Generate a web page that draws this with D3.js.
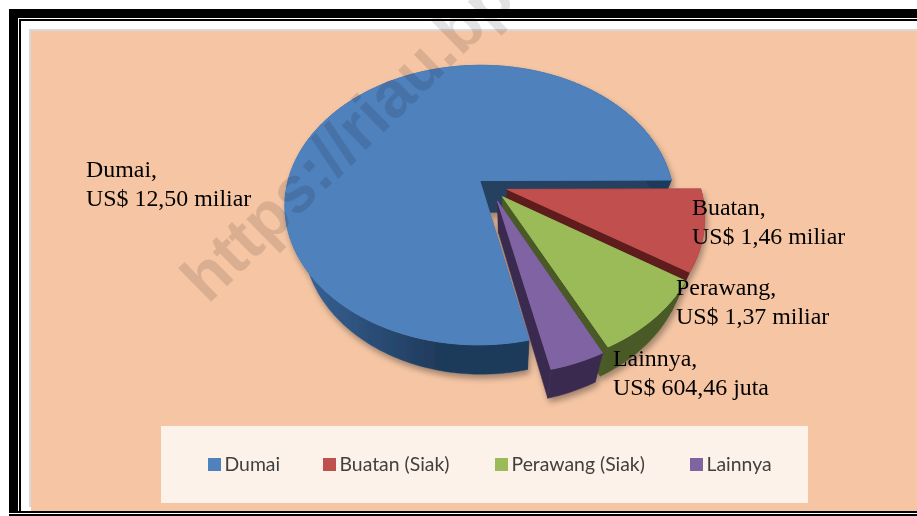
<!DOCTYPE html>
<html><head><meta charset="utf-8">
<script src="https://cdn.jsdelivr.net/npm/d3@7"></script>
<style>html,body{margin:0;padding:0;background:#fff;overflow:hidden}svg{display:block}</style>
</head><body>
<script>
const categories = ["Dumai","Buatan (Siak)","Perawang (Siak)","Lainnya"];
const values = [12.50,1.46,1.37,0.60446];
const labelTitles = ["Dumai,","Buatan,","Perawang,","Lainnya,"];
const labelValues = ["US$ 12,50 miliar","US$ 1,46 miliar","US$ 1,37 miliar","US$ 604,46 juta"];
const topColors = ["#4F81BD","#C0504D","#9BBB59","#8064A2"];
const wallColors = ["#254061","#5E1F1D","#4A5A26","#3A2C4F"];
const legendColors = ["#4F81BD","#C0504D","#9BBB59","#8064A2"];
const watermark = "https://riau.bps.go.id";

const W=917,H=516;
const explode = [8,22,20,22];
const nudge = [[0,0],[0,1],[3,2],[4,2]];
const legendSwatchX = [208,323,495,690];
const labelPos = [[86,177],[692,215],[676,295],[613,366]];
const svg=d3.select("body").append("svg").attr("width",W).attr("height",H);
const defs=svg.append("defs");
const sh=defs.append("filter").attr("id","sh").attr("x","-10%").attr("y","-10%").attr("width","120%").attr("height","125%");
sh.append("feDropShadow").attr("dx",2).attr("dy",4).attr("stdDeviation",3).attr("flood-color","#000").attr("flood-opacity",.35);
const grad=defs.append("linearGradient").attr("id","blueWall").attr("gradientUnits","userSpaceOnUse")
 .attr("x1",290).attr("x2",440).attr("y1",0).attr("y2",0);
grad.append("stop").attr("offset",0).attr("stop-color","#3A659A");
grad.append("stop").attr("offset",1).attr("stop-color","#1F3A5A");

// frame
const rect=(x,y,w,h,f)=>svg.append("rect").attr("x",x).attr("y",y).attr("width",w).attr("height",h).attr("fill",f);
rect(9,9,W-9,H-9,"#000");
rect(18,18,W-18,H-20,"#fff");
rect(19,19,W-19,H-22,"#000");
rect(21,21,W-21,H-26,"#fff");
rect(29,29,W-29,H-38,"#D9D9D9");
rect(31,31,W-31,480,"#F6C6A4");
rect(0,513,W,1,"#fff");
rect(9,511,W-9,2,"#000");
rect(9,514,W-9,2,"#000");

// pie geometry
const R=192.5,cx=486,cy=184,k=0.177,s=0.71;
const start=167.4*Math.PI/180;
const pie=d3.pie().sort(null).startAngle(start).endAngle(start+2*Math.PI);
const arcs=pie(values);
const project=(u,v)=>{const w=1-k*v/R;return [cx+u/w,cy+s*v/w];};
const drop=([x,y])=>[510+.92*(x-510), y+32-.016*(y-180)];
const line=d3.line();
const g=svg.append("g").attr("filter","url(#sh)");
arcs.forEach((a,i)=>{
  const mid=(a.startAngle+a.endAngle)/2,e=explode[i];
  const ou=e*Math.sin(mid),ov=-e*Math.cos(mid);
  const pt=(r,t)=>{const p=project(ou+r*Math.sin(t),ov-r*Math.cos(t));return [p[0]+nudge[i][0],p[1]+nudge[i][1]];};
  const apex=pt(0,0);
  const n=Math.max(8,Math.round((a.endAngle-a.startAngle)*60));
  const rim=d3.range(n+1).map(j=>pt(R,a.startAngle+(a.endAngle-a.startAngle)*j/n));
  const wall=(pts,fill)=>g.append("path").attr("d",line(pts.concat(pts.map(drop).reverse()))+"Z")
     .attr("fill",fill).attr("stroke",fill).attr("stroke-width",.5);
  wall([apex,rim[0]],wallColors[i]);
  wall([apex,rim[n]],wallColors[i]);
  wall(rim,i===0?"url(#blueWall)":wallColors[i]);
  g.append("path").attr("d",line([apex,...rim])+"Z").attr("fill",topColors[i])
   .attr("stroke",topColors[i]).attr("stroke-width",1).attr("stroke-linejoin","round");
});

// labels
const lab=svg.append("g").attr("font-family","'Liberation Serif',serif").attr("font-size",23.9).attr("fill","#000");
labelTitles.forEach((t,i)=>{
  lab.append("text").attr("x",labelPos[i][0]).attr("y",labelPos[i][1]).text(t);
  lab.append("text").attr("x",labelPos[i][0]).attr("y",labelPos[i][1]+28.5).text(labelValues[i]);
});

// legend
rect(161,426,647,77,"#FDF2E9");
const lg=svg.append("g").attr("font-family","Lato,sans-serif").attr("font-size",19.4).attr("fill","#404040");
categories.forEach((c,i)=>{
  lg.append("rect").attr("x",legendSwatchX[i]).attr("y",458).attr("width",13).attr("height",13).attr("fill",legendColors[i]);
  lg.append("text").attr("x",legendSwatchX[i]+16.5).attr("y",471).text(c);
});

// watermark
svg.append("text").attr("transform","translate(208,305) rotate(-44.5)")
 .attr("font-family","'Liberation Sans',sans-serif").attr("font-weight","bold").attr("font-size",65)
 .attr("fill","#E2E2E2").style("mix-blend-mode","multiply").text(watermark);
</script>
</body></html>
